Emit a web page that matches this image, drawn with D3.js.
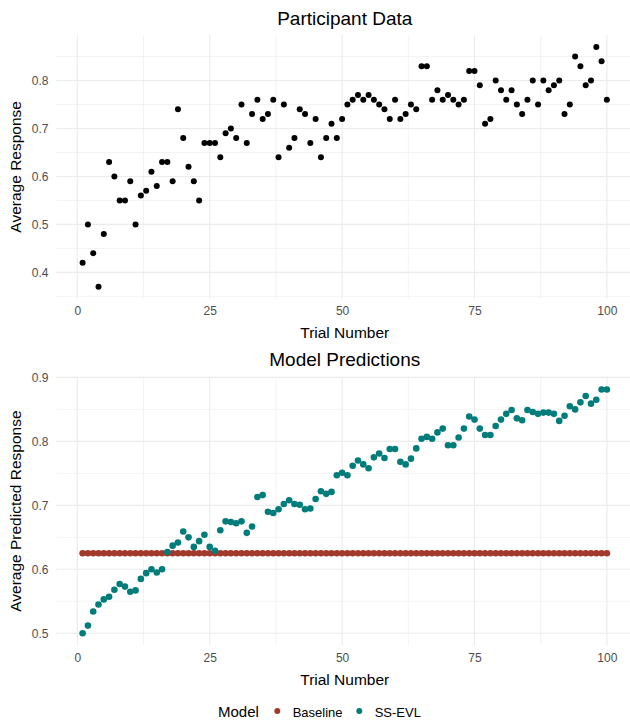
<!DOCTYPE html>
<html><head><meta charset="utf-8">
<script src="https://cdn.jsdelivr.net/npm/d3@7"></script>
<style>body{margin:0;background:#fff} svg text{font-family:"Liberation Sans",Arial,sans-serif}</style>
</head><body><svg id="c" width="630" height="723"></svg>
<script>
const trials = [1,2,3,4,5,6,7,8,9,10,11,12,13,14,15,16,17,18,19,20,21,22,23,24,25,26,27,28,29,30,31,32,33,34,35,36,37,38,39,40,41,42,43,44,45,46,47,48,49,50,51,52,53,54,55,56,57,58,59,60,61,62,63,64,65,66,67,68,69,70,71,72,73,74,75,76,77,78,79,80,81,82,83,84,85,86,87,88,89,90,91,92,93,94,95,96,97,98,99,100];
const participantValues = [0.42,0.50,0.44,0.37,0.48,0.63,0.60,0.55,0.55,0.59,
 0.50,0.56,0.57,0.61,0.58,0.63,0.63,0.59,0.74,0.68,
 0.62,0.59,0.55,0.67,0.67,0.67,0.64,0.69,0.70,0.68,
 0.75,0.67,0.73,0.76,0.72,0.73,0.76,0.64,0.75,0.66,
 0.68,0.74,0.73,0.67,0.72,0.64,0.68,0.71,0.68,0.72,
 0.75,0.76,0.77,0.76,0.77,0.76,0.75,0.74,0.72,0.76,
 0.72,0.73,0.75,0.74,0.83,0.83,0.76,0.78,0.76,0.77,
 0.76,0.75,0.76,0.82,0.82,0.79,0.71,0.72,0.80,0.78,
 0.76,0.78,0.75,0.73,0.76,0.80,0.75,0.80,0.78,0.79,
 0.80,0.73,0.75,0.85,0.83,0.79,0.80,0.87,0.84,0.76];
const baselineValues = [0.625,0.625,0.625,0.625,0.625,0.625,0.625,0.625,0.625,0.625,
 0.625,0.625,0.625,0.625,0.625,0.625,0.625,0.625,0.625,0.625,
 0.625,0.625,0.625,0.625,0.625,0.625,0.625,0.625,0.625,0.625,
 0.625,0.625,0.625,0.625,0.625,0.625,0.625,0.625,0.625,0.625,
 0.625,0.625,0.625,0.625,0.625,0.625,0.625,0.625,0.625,0.625,
 0.625,0.625,0.625,0.625,0.625,0.625,0.625,0.625,0.625,0.625,
 0.625,0.625,0.625,0.625,0.625,0.625,0.625,0.625,0.625,0.625,
 0.625,0.625,0.625,0.625,0.625,0.625,0.625,0.625,0.625,0.625,
 0.625,0.625,0.625,0.625,0.625,0.625,0.625,0.625,0.625,0.625,
 0.625,0.625,0.625,0.625,0.625,0.625,0.625,0.625,0.625,0.625];
const ssevlValues = [0.500,0.512,0.534,0.545,0.553,0.557,0.568,0.577,0.573,0.565,
 0.567,0.585,0.594,0.600,0.595,0.600,0.627,0.637,0.642,0.659,
 0.650,0.635,0.644,0.654,0.635,0.629,0.661,0.675,0.674,0.672,
 0.675,0.657,0.667,0.713,0.716,0.690,0.688,0.694,0.702,0.708,
 0.702,0.701,0.694,0.695,0.710,0.722,0.718,0.721,0.747,0.751,
 0.747,0.762,0.770,0.764,0.758,0.775,0.781,0.774,0.788,0.788,
 0.768,0.764,0.773,0.789,0.804,0.807,0.804,0.814,0.820,0.794,
 0.794,0.806,0.820,0.839,0.834,0.820,0.810,0.810,0.824,0.834,
 0.843,0.849,0.836,0.833,0.849,0.846,0.843,0.845,0.845,0.843,
 0.832,0.840,0.855,0.850,0.861,0.871,0.859,0.865,0.881,0.881];
const xTicks = [0,25,50,75,100];
const xMinorTicks = [12.5,37.5,62.5,87.5];
const topYTicks = [0.4,0.5,0.6,0.7,0.8];
const topYMinor = [0.35,0.45,0.55,0.65,0.75,0.85];
const bottomYTicks = [0.5,0.6,0.7,0.8,0.9];
const bottomYMinor = [0.55,0.65,0.75,0.85];
const modelNames = ["Baseline","SS-EVL"];
const modelColors = ["#A3392C","#007D7B"];

const svg = d3.select("#c");
const GRID = "#EBEBEB";
const panelL = 56.4, panelR = 633.1;
const x = d3.scaleLinear().domain([-3.95, 104.95]).range([panelL, panelR]);

function panel(cfg) {
  const y = d3.scaleLinear().domain(cfg.yDomain).range([cfg.bottom, cfg.top]);
  const g = svg.append("g");
  // minor grid
  g.selectAll(".vmin").data(xMinorTicks).join("line")
    .attr("x1", d => x(d)).attr("x2", d => x(d)).attr("y1", cfg.top).attr("y2", cfg.bottom)
    .attr("stroke", GRID).attr("stroke-width", 0.6);
  g.selectAll(".hmin").data(cfg.yMinor).join("line")
    .attr("x1", panelL).attr("x2", panelR).attr("y1", d => y(d)).attr("y2", d => y(d))
    .attr("stroke", GRID).attr("stroke-width", 0.6);
  // major grid
  g.selectAll(".vmaj").data(xTicks).join("line")
    .attr("x1", d => x(d)).attr("x2", d => x(d)).attr("y1", cfg.top).attr("y2", cfg.bottom)
    .attr("stroke", GRID).attr("stroke-width", 1.1);
  g.selectAll(".hmaj").data(cfg.yTicks).join("line")
    .attr("x1", panelL).attr("x2", panelR).attr("y1", d => y(d)).attr("y2", d => y(d))
    .attr("stroke", GRID).attr("stroke-width", 1.1);
  // axes
  const ax = svg.append("g").attr("transform", `translate(0,${cfg.bottom})`)
    .call(d3.axisBottom(x).tickValues(xTicks).tickFormat(d3.format("d")).tickSize(0).tickPadding(8));
  const ay = svg.append("g").attr("transform", `translate(${panelL},0)`)
    .call(d3.axisLeft(y).tickValues(cfg.yTicks).tickFormat(d3.format(".1f")).tickSize(0).tickPadding(8));
  [ax, ay].forEach(a => {
    a.select(".domain").remove();
    a.selectAll("text").attr("fill", "#4D4D4D").style("font-size", "12px")
      .style("font-family", '"Liberation Sans",Arial,sans-serif');
  });
  // titles
  svg.append("text").attr("x", (panelL + panelR) / 2).attr("y", cfg.top - 10.5)
    .attr("text-anchor", "middle").style("font-size", "19px").attr("fill", "#000").text(cfg.title);
  svg.append("text").attr("x", (panelL + panelR) / 2).attr("y", cfg.bottom + 39.5)
    .attr("text-anchor", "middle").style("font-size", "15.5px").attr("fill", "#000").text("Trial Number");
  svg.append("text").attr("transform", `translate(20.5,${(cfg.top + cfg.bottom) / 2}) rotate(-90)`)
    .attr("text-anchor", "middle").style("font-size", "15.5px").attr("fill", "#000").text(cfg.yTitle);
  // points
  cfg.series.forEach(s => {
    svg.append("g").selectAll("circle").data(trials).join("circle")
      .attr("cx", d => x(d)).attr("cy", (d, i) => y(s.values[i]))
      .attr("r", s.r).attr("fill", s.color);
  });
}

panel({
  top: 35, bottom: 298.7, yDomain: [0.345, 0.895],
  yTicks: topYTicks, yMinor: topYMinor,
  title: "Participant Data", yTitle: "Average Response",
  series: [{values: participantValues, color: "#000", r: 3}]
});
panel({
  top: 376.7, bottom: 645.5, yDomain: [0.4809, 0.9011],
  yTicks: bottomYTicks, yMinor: bottomYMinor,
  title: "Model Predictions", yTitle: "Average Predicted Response",
  series: [{values: baselineValues, color: modelColors[0], r: 3.3},
           {values: ssevlValues, color: modelColors[1], r: 3.3}]
});

// legend
const leg = svg.append("g");
leg.append("text").attr("x", 218).attr("y", 717).style("font-size", "15px").attr("fill", "#000").text("Model");
const legX = [277.3, 359.3];
modelNames.forEach((m, i) => {
  leg.append("circle").attr("cx", legX[i]).attr("cy", 711).attr("r", 3).attr("fill", modelColors[i]);
  leg.append("text").attr("x", legX[i] + 15.4).attr("y", 716.7).style("font-size", "13px")
    .attr("fill", "#000").text(m);
});
</script></body></html>
